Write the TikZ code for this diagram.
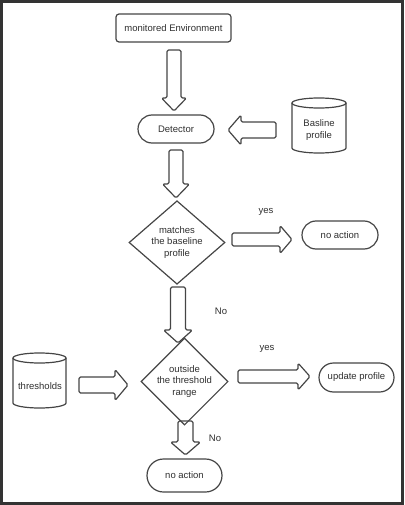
\documentclass[tikz,border=0pt]{standalone}
\usepackage{fontspec}
\setmainfont{Liberation Sans}
\usetikzlibrary{shapes.geometric,shapes.misc}
\definecolor{ln}{HTML}{454545}
\definecolor{tx}{HTML}{2E2E2E}
\definecolor{fr}{HTML}{333333}
\tikzset{
  base/.style={draw=ln, line width=1.2pt, text=tx, align=center, inner sep=0pt,
    font=\fontsize{9.5}{11.7}\selectfont},
  boxnode/.style={base, rectangle, rounded corners=3pt},
  pill/.style={base, rounded rectangle},
  decision/.style={base, diamond},
  lbl/.style={text=tx, inner sep=0pt, font=\fontsize{9.5}{11.7}\selectfont},
  blk/.style={draw=ln, line width=1.2pt, rounded corners=1.5pt, line join=round},
  cyl/.style={draw=ln, line width=1.2pt},
}
% tail x, tail y, rotation, length, shaft half width, head half width, head length
\newcommand\blockarr[7]{%
  \draw[blk, shift={(#1,#2)}, rotate=#3]
    (0,-#5) -- ({#4-#7},-#5) -- ({#4-#7},-#6) -- (#4,0) -- ({#4-#7},#6)
    -- ({#4-#7},#5) -- (0,#5) -- cycle;}
% cylinder: center x, top y, bottom y, half width, ellipse radius
\newcommand\cylshape[5]{%
  \draw[cyl] (#1-#4,#2-#5) -- (#1-#4,#3+#5)
    arc[start angle=180, end angle=360, x radius=#4, y radius=#5]
    -- (#1+#4,#2-#5);
  \draw[cyl] (#1,#2-#5) ellipse[x radius=#4, y radius=#5];}
\begin{document}
\begin{tikzpicture}[x=1pt,y=1pt]
\useasboundingbox (0,0) rectangle (404,-505);
\draw[fr, line width=2.5pt] (1.5,-1.5) rectangle (402.5,-503.5);

\node[boxnode, minimum width=115pt, minimum height=28pt] (env) at (173.5,-28) {monitored Environment};
\node[pill, minimum width=76pt, minimum height=28pt] (det) at (176,-129) {Detector};

\cylshape{319}{-98}{-153}{27}{5}
\node[lbl, align=center] (base) at (319,-130) {Basline\\profile};

\node[decision, minimum width=96pt, minimum height=75pt] (d1) at (177,-242.5) {matches\\the baseline\\profile};
\node[pill, minimum width=76pt, minimum height=28pt] (na1) at (340,-235) {no action};
\node[lbl] (yes1) at (266,-212) {yes};
\node[lbl] (no1) at (221,-311) {No};

\cylshape{39.5}{-353}{-408}{26.5}{5}
\node[lbl] (thr) at (40,-386) {thresholds};

\node[decision, minimum width=83pt, minimum height=63pt] (d2) at (184.5,-381.5) {outside\\the threshold\\range};
\node[pill, minimum width=75pt, minimum height=29pt] (upd) at (356.5,-377.5) {update profile};
\node[lbl] (yes2) at (267,-349) {yes};
\node[lbl] (no2) at (215,-438) {No};
\node[pill, minimum width=75pt, minimum height=33pt] (na2) at (184.5,-475.5) {no action};

% block arrows
\blockarr{174}{-50}{-90}{61}{7}{12.5}{13}
\blockarr{176}{-150}{-90}{48}{7}{13.5}{14}
\blockarr{178}{-287}{-90}{56}{7.5}{14.5}{13}
\blockarr{185.5}{-421}{-90}{34}{7.5}{15}{13}
\blockarr{232}{-239.5}{0}{60}{6.5}{14}{12}
\blockarr{238}{-376.5}{0}{72}{6.5}{13.5}{12}
\blockarr{276}{-130}{180}{48}{8}{15}{13}
\blockarr{79}{-385}{0}{49}{8}{15.5}{13}
\end{tikzpicture}
\end{document}
